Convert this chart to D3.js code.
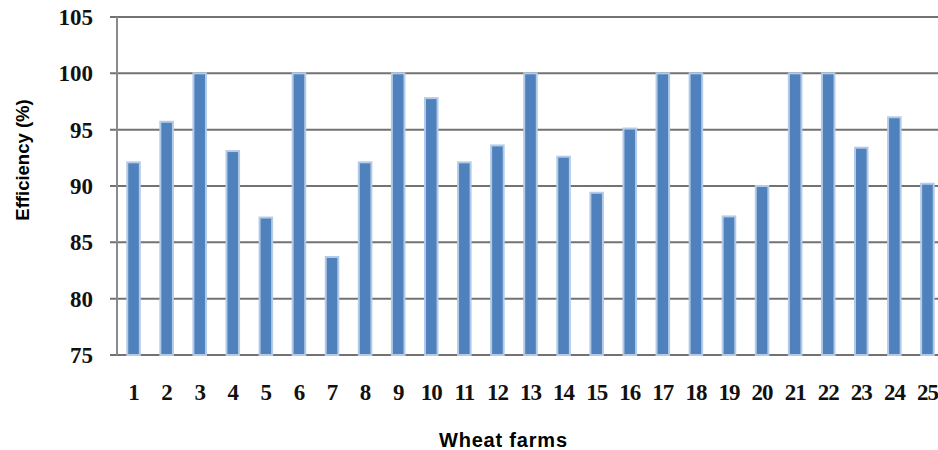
<!DOCTYPE html>
<html lang="en">
<head>
    <meta charset="UTF-8">
    <title>Wheat farm efficiency</title>
    <script src="https://cdn.jsdelivr.net/npm/d3@7"></script>
    <style>
        body { margin: 0; background: #fff; }
        svg { display: block; }
    </style>
</head>
<body>
    <div id="chart"></div>
    <script>
        // data
        const farms = ["1","2","3","4","5","6","7","8","9","10","11","12","13","14","15","16","17","18","19","20","21","22","23","24","25"];
        const efficiency = [92.1, 95.7, 100, 93.1, 87.2, 100, 83.7, 92.1, 100, 97.8, 92.1, 93.6, 100, 92.6, 89.4, 95.1, 100, 100, 87.3, 90.0, 100, 100, 93.4, 96.1, 90.2];
        const yTicks = [75, 80, 85, 90, 95, 100, 105];

        const W = 938, H = 450;
        const plotLeft = 117, plotTop = 17, plotBottom = 355;
        const step = 33.08;

        const svg = d3.select("#chart").append("svg")
            .attr("width", W)
            .attr("height", H);

        const x = d3.scaleBand()
            .domain(farms)
            .range([plotLeft, plotLeft + step * farms.length])
            .paddingInner(0.62)
            .paddingOuter(0.31);

        const y = d3.scaleLinear()
            .domain([75, 105])
            .range([plotBottom, plotTop]);

        // gridlines
        svg.append("g")
            .selectAll("line")
            .data(yTicks)
            .enter().append("line")
            .attr("x1", plotLeft - 7)
            .attr("x2", W)
            .attr("y1", d => y(d))
            .attr("y2", d => y(d))
            .attr("stroke", "#727272")
            .attr("stroke-width", 2);

        // left axis line
        svg.append("line")
            .attr("x1", plotLeft).attr("x2", plotLeft)
            .attr("y1", y(105)).attr("y2", y(75))
            .attr("stroke", "#8a8a8a")
            .attr("stroke-width", 2);

        // bars
        svg.append("g")
            .selectAll("rect")
            .data(efficiency)
            .enter().append("rect")
            .attr("x", (d, i) => x(farms[i]))
            .attr("y", d => y(d))
            .attr("width", x.bandwidth())
            .attr("height", d => y(75) - y(d))
            .attr("fill", "#4f81bd")
            .attr("stroke", "#b4cbe8")
            .attr("stroke-width", 2);

        // y tick labels
        svg.append("g")
            .selectAll("text")
            .data(yTicks)
            .enter().append("text")
            .attr("x", 93)
            .attr("y", d => y(d) + 8)
            .attr("text-anchor", "end")
            .style("font-family", "'Liberation Serif', 'Times New Roman', serif")
            .style("font-weight", "bold")
            .style("font-size", "23px")
            .style("fill", "#111")
            .text(d => d);

        // x tick labels
        svg.append("g")
            .selectAll("text")
            .data(farms)
            .enter().append("text")
            .attr("x", d => x(d) + x.bandwidth() / 2)
            .attr("y", 400)
            .attr("text-anchor", "middle")
            .style("font-family", "'Liberation Serif', 'Times New Roman', serif")
            .style("font-weight", "bold")
            .style("font-size", "23px")
            .style("letter-spacing", "-1px")
            .style("fill", "#111")
            .text(d => d);

        // axis titles
        svg.append("text")
            .attr("x", 503)
            .attr("y", 447)
            .attr("text-anchor", "middle")
            .attr("textLength", 128)
            .style("font-family", "'Liberation Sans', Arial, sans-serif")
            .style("font-weight", "bold")
            .style("font-size", "20px")
            .text("Wheat farms");

        svg.append("text")
            .attr("transform", "translate(29,160) rotate(-90)")
            .attr("text-anchor", "middle")
            .style("font-family", "'Liberation Sans', Arial, sans-serif")
            .style("font-weight", "bold")
            .style("font-size", "18.5px")
            .text("Efficiency (%)");
    </script>
</body>
</html>
